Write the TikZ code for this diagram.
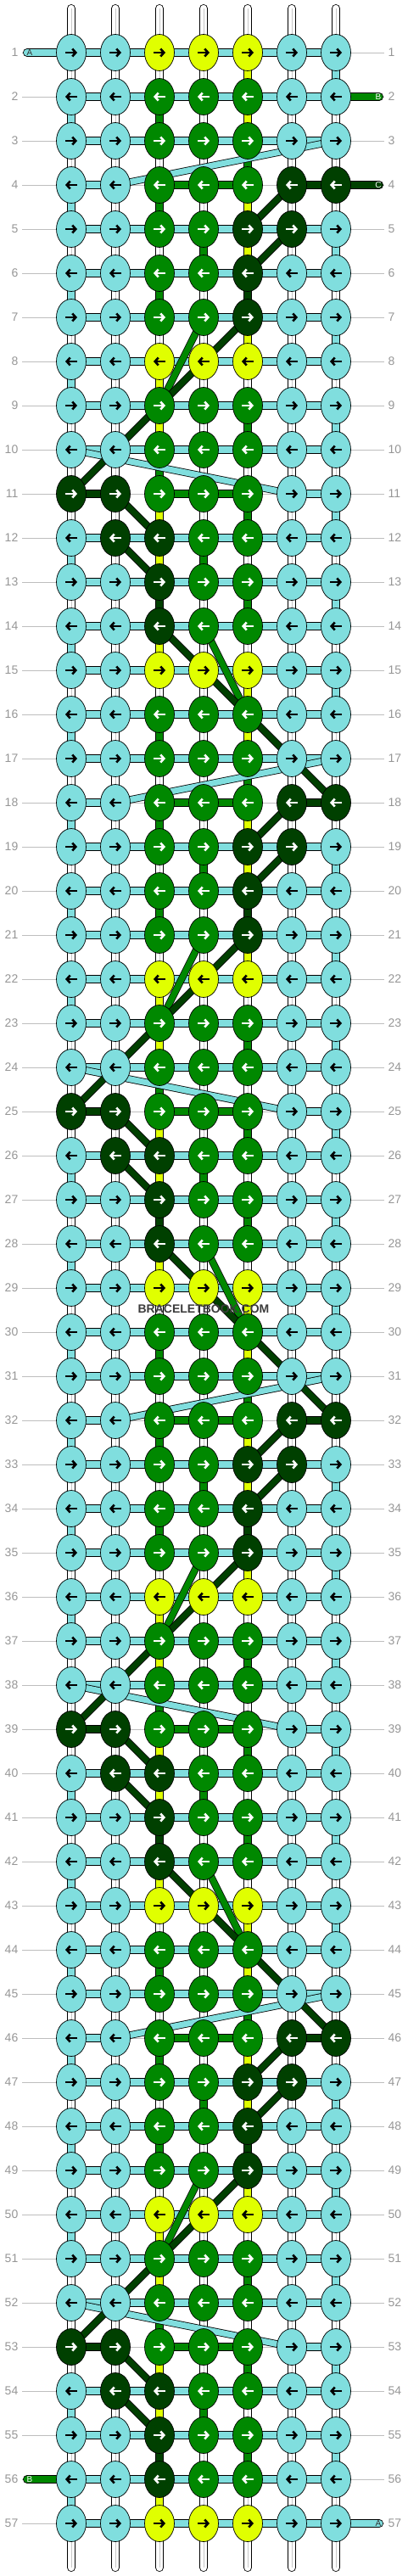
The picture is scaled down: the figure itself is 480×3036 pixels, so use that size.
\documentclass[tikz,border=0pt]{standalone}
\usepackage{fontspec}
\setmainfont{Liberation Sans}
\usetikzlibrary{arrows.meta,shapes.geometric,calc}

\definecolor{kC}{RGB}{128,222,222}
\definecolor{kY}{RGB}{224,255,0}
\definecolor{kG}{RGB}{0,136,0}
\definecolor{kD}{RGB}{0,64,0}
\definecolor{kW}{RGB}{255,255,255}
\colorlet{aC}{black}
\colorlet{aY}{black}
\colorlet{aG}{white}
\colorlet{aD}{white}
\definecolor{rowgray}{RGB}{190,190,190}
\definecolor{numgray}{RGB}{150,150,150}
\definecolor{brandgray}{RGB}{60,60,60}

\pgfdeclarelayer{background}
\pgfsetlayers{background,main}

% knot colours, one line per row of the 14-row repeat
\expandafter\def\csname kr1\endcsname{C,C,Y,Y,Y,C,C}
\expandafter\def\csname kr2\endcsname{C,C,G,G,G,C,C}
\expandafter\def\csname kr3\endcsname{C,C,G,G,G,C,C}
\expandafter\def\csname kr4\endcsname{C,C,G,G,G,D,D}
\expandafter\def\csname kr5\endcsname{C,C,G,G,D,D,C}
\expandafter\def\csname kr6\endcsname{C,C,G,G,D,C,C}
\expandafter\def\csname kr7\endcsname{C,C,G,G,D,C,C}
\expandafter\def\csname kr8\endcsname{C,C,Y,Y,Y,C,C}
\expandafter\def\csname kr9\endcsname{C,C,G,G,G,C,C}
\expandafter\def\csname kr10\endcsname{C,C,G,G,G,C,C}
\expandafter\def\csname kr11\endcsname{D,D,G,G,G,C,C}
\expandafter\def\csname kr12\endcsname{C,D,D,G,G,C,C}
\expandafter\def\csname kr13\endcsname{C,C,D,G,G,C,C}
\expandafter\def\csname kr14\endcsname{C,C,D,G,G,C,C}

% strings between a row and the next one
\expandafter\def\csname vs1\endcsname{W,W,W,W,Y,W,C}
\expandafter\def\csname vs2\endcsname{C,W,G,W,Y,W,W}
\expandafter\def\csname vs3\endcsname{W,W,W,W,G,W,W}
\expandafter\def\csname vs4\endcsname{C,W,G,W,Y,W,W}
\expandafter\def\csname vs5\endcsname{W,W,W,G,Y,W,C}
\expandafter\def\csname vs6\endcsname{C,W,G,W,D,W,W}
\expandafter\def\csname vs7\endcsname{W,W,W,W,Y,W,C}
\expandafter\def\csname vs8\endcsname{C,W,Y,W,W,W,W}
\expandafter\def\csname vs9\endcsname{W,W,Y,W,G,W,C}
\expandafter\def\csname vs10\endcsname{W,W,G,W,W,W,W}
\expandafter\def\csname vs11\endcsname{W,W,Y,W,G,W,C}
\expandafter\def\csname vs12\endcsname{C,W,Y,G,W,W,W}
\expandafter\def\csname vs13\endcsname{W,W,D,W,G,W,C}
\expandafter\def\csname vs14\endcsname{C,W,Y,W,W,W,W}

% links inside a row (N = none)
\def\hsplain{C,C,C,C,C,C}
\expandafter\def\csname hs4\endcsname{C,N,G,G,N,D}
\expandafter\def\csname hs11\endcsname{D,N,G,G,N,C}

\begin{document}
\begin{tikzpicture}[
    x = 1pt, y = -1pt,
    knot/.style = {ellipse, draw=black, line width=0.7pt,
        minimum width=35pt, minimum height=43pt, inner sep=0pt},
    dirarrow/.style = {line width=2.6pt, -{Straight Barb[length=4pt,width=9pt]}},
    seg/.style = {draw=black, line width=0.8pt, double=#1, double distance=8.4pt},
    diag/.style = {draw=black, line width=0.8pt, double=#1, double distance=7pt},
    strandmid/.style = {draw=black!22, line width=0.7pt},
    rowline/.style = {draw=rowgray, line width=0.7pt},
    num/.style = {text=numgray, font=\fontsize{14}{14}\selectfont, inner xsep=4.5pt, inner ysep=0pt},
    endlabel/.style = {font=\fontsize{10}{10}\selectfont, inner sep=0pt}
    ]
    \useasboundingbox (0,0) rectangle (480,3036);

    % knots and their arrows
    \foreach \row in {1,...,57} {
        \pgfmathtruncatemacro\rowoff{mod(\row-1,14)+1}
        \pgfmathtruncatemacro\dir{1-2*mod(\row+1,2)}
        \edef\klist{\csname kr\rowoff\endcsname}
        \foreach \kc [count=\col] in \klist {
            \node[knot, fill=k\kc] (k-\row-\col) at ({84+52*(\col-1)},{62+52*(\row-1)}) {};
            \draw[dirarrow, draw=a\kc] ($(k-\row-\col.center)+({-7*\dir},0)$)
                -- ($(k-\row-\col.center)+({7*\dir},0)$);
        }
        \node[num, anchor=east] (ll-\row) at (26,{62+52*(\row-1)}) {\row};
        \node[num, anchor=west] (rl-\row) at (453,{62+52*(\row-1)}) {\row};
    }

    \node[font=\bfseries\fontsize{14}{14}\selectfont, text=brandgray] (brand) at (240,1543) {BRACELETBOOK.COM};

    \begin{pgfonlayer}{background}
        \foreach \row in {1,...,57}
            \draw[rowline] (ll-\row.east) -- (rl-\row.west);

        % loose ends at top and bottom
        \foreach \col in {1,...,7} {
            \coordinate (top-\col) at ({84+52*(\col-1)},10);
            \coordinate (bot-\col) at ({84+52*(\col-1)},3026);
            \draw[seg=kW, line cap=round] (top-\col) -- (k-1-\col.center);
            \draw[strandmid] (top-\col) -- (k-1-\col.center);
            \draw[seg=kW, line cap=round] (k-57-\col.center) -- (bot-\col);
            \draw[strandmid] (k-57-\col.center) -- (bot-\col);
        }

        % vertical strings
        \foreach \row in {1,...,56} {
            \pgfmathtruncatemacro\rowoff{mod(\row-1,14)+1}
            \pgfmathtruncatemacro\nxt{\row+1}
            \edef\vlist{\csname vs\rowoff\endcsname}
            \foreach \vc [count=\col] in \vlist {
                \draw[seg=k\vc] (k-\row-\col.center) -- (k-\nxt-\col.center);
                \if\vc W \draw[strandmid] (k-\row-\col.center) -- (k-\nxt-\col.center); \fi
            }
        }

        % links along each row
        \foreach \row in {1,...,57} {
            \pgfmathtruncatemacro\rowoff{mod(\row-1,14)+1}
            \ifcsname hs\rowoff\endcsname
                \edef\hlist{\csname hs\rowoff\endcsname}
            \else
                \let\hlist\hsplain
            \fi
            \foreach \hc [count=\col] in \hlist {
                \if\hc N \else
                    \pgfmathtruncatemacro\nc{\col+1}
                    \draw[seg=k\hc] (k-\row-\col.center) -- (k-\row-\nc.center);
                \fi
            }
        }

        % strings that cross over
        \foreach \base in {0,14,28,42} {
            \pgfmathtruncatemacro\rowiii{\base+3}
            \pgfmathtruncatemacro\rowiv{\base+4}
            \pgfmathtruncatemacro\rowv{\base+5}
            \pgfmathtruncatemacro\rowvi{\base+6}
            \pgfmathtruncatemacro\rowvii{\base+7}
            \pgfmathtruncatemacro\rowix{\base+9}
            \pgfmathtruncatemacro\rowx{\base+10}
            \pgfmathtruncatemacro\rowxi{\base+11}
            \pgfmathtruncatemacro\rowxii{\base+12}
            \pgfmathtruncatemacro\rowxiii{\base+13}
            \draw[diag=kC] (k-\rowiii-7.center) -- (k-\rowiv-2.center);
            \draw[diag=kC] (k-\rowx-1.center) -- (k-\rowxi-6.center);
            \draw[diag=kD] (k-\rowiv-6.center) -- (k-\rowv-5.center);
            \draw[diag=kD] (k-\rowv-6.center) -- (k-\rowvi-5.center);
            \draw[diag=kD] (k-\rowxi-2.center) -- (k-\rowxii-3.center);
            \draw[diag=kD] (k-\rowxii-2.center) -- (k-\rowxiii-3.center);
            \draw[diag=kG] (k-\rowvii-4.center) -- (k-\rowix-3.center);
            \draw[diag=kD] (k-\rowvii-5.center) -- (k-\rowxi-1.center);
        }
        \foreach \base in {0,14,28} {
            \pgfmathtruncatemacro\rowxiv{\base+14}
            \pgfmathtruncatemacro\rowxvi{\base+16}
            \pgfmathtruncatemacro\rowxviii{\base+18}
            \draw[diag=kG] (k-\rowxiv-4.center) -- (k-\rowxvi-5.center);
            \draw[diag=kD] (k-\rowxiv-3.center) -- (k-\rowxviii-7.center);
        }

        % string ends
        \coordinate (endA1) at (32,62);
        \coordinate (endB2) at (447,114);
        \coordinate (endC4) at (447,218);
        \coordinate (endB56) at (32,2922);
        \coordinate (endA57) at (447,2974);
        \draw[seg=kC, line cap=round] (endA1) -- (k-1-1.center);
        \draw[seg=kG, line cap=round] (k-2-7.center) -- (endB2);
        \draw[seg=kD, line cap=round] (k-4-7.center) -- (endC4);
        \draw[seg=kG, line cap=round] (endB56) -- (k-56-1.center);
        \draw[seg=kC, line cap=round] (k-57-7.center) -- (endA57);
    \end{pgfonlayer}

    \node[endlabel, text=black!80] (labA1) at ($(endA1)+(3,0)$) {A};
    \node[endlabel, text=white] (labB2) at ($(endB2)+(-1,0)$) {B};
    \node[endlabel, text=white] (labC4) at ($(endC4)+(-1,0)$) {C};
    \node[endlabel, text=white] (labB56) at ($(endB56)+(3,0)$) {B};
    \node[endlabel, text=black!80] (labA57) at ($(endA57)+(-1,0)$) {A};
\end{tikzpicture}
\end{document}
